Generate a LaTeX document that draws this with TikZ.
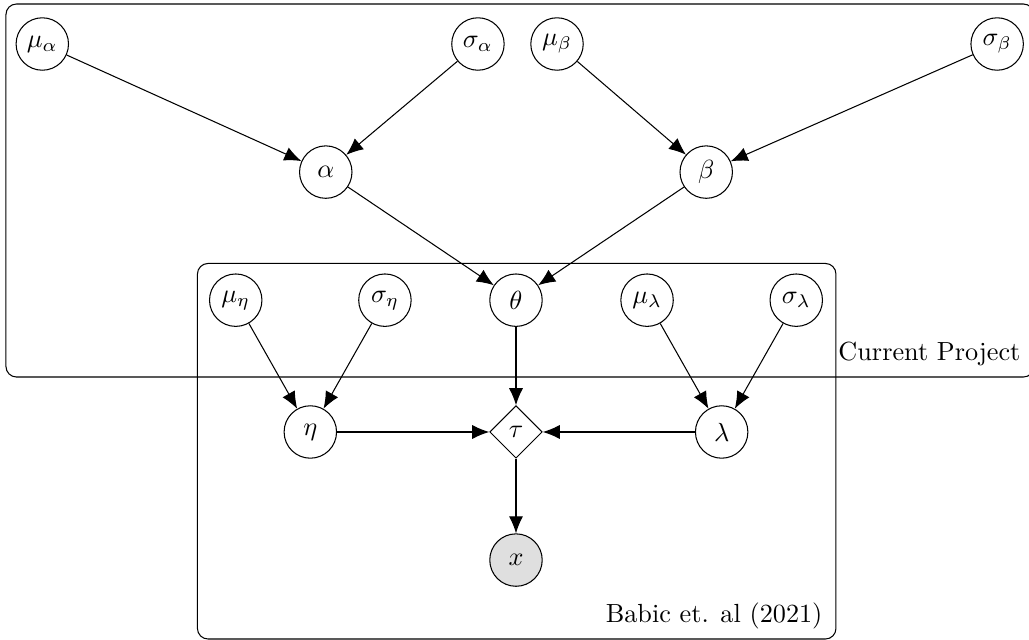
\documentclass[tikz,border=0pt]{standalone}
\usepackage{amsmath,amssymb}
\usepackage{tikz}
\usetikzlibrary{positioning}
\usetikzlibrary{arrows.meta}
\usetikzlibrary{shapes}

\begin{document}
\begin{tikzpicture}[node distance=1cm]
\tikzset{latent/.style={circle,minimum size=20pt,inner sep=1pt, draw, fill=white}}
\tikzset{obs/.style={latent, fill=gray!25}}
\tikzset{det/.style={diamond,minimum size=20pt,inner sep=1pt, draw, fill=white}}
\tikzset{plate/.style={draw, rounded corners=4pt}}
\tikzset{platelabel/.style={anchor=base east, inner sep=0pt}}
\tikzset{link/.style={-{Latex[length=6.5pt,width=5.4pt]}}}
\useasboundingbox (0,0) rectangle (13.794,-8.579);
% plates
\draw[plate] (0.080,-0.054) rectangle (13.86,-5.054);
\draw[plate] (2.647,-3.532) rectangle (11.206,-8.566);
\node[platelabel] (lblproject) at (13.686,-4.839) {Current Project};
\node[platelabel] (lblbabic) at (11.032,-8.351) {Babic et. al (2021)};
% nodes
\node[det] (tau) at (6.917,-5.791) {$\tau$};
\node[obs, below = of tau] (x) {$x$};
\node[latent, above = 1.05cm of tau] (theta) {$\theta$};
\node[latent, left = 2.04cm of tau] (eta) {$\eta$};
\node[latent, right = 2.04cm of tau] (lambda) {$\lambda$};
\node[latent, above = 1.05cm of eta, xshift=-1cm] (mueta) {$\mu_\eta$};
\node[latent, above = 1.05cm of eta, xshift=1cm] (sigmaeta) {$\sigma_\eta$};
\node[latent, above = 1.05cm of lambda, xshift=-1cm] (mulambda) {$\mu_\lambda$};
\node[latent, above = 1.05cm of lambda, xshift=1cm] (sigmalambda) {$\sigma_\lambda$};
\node[latent, above = of theta, xshift=-2.55cm] (alpha) {$\alpha$};
\node[latent, above = of theta, xshift=2.55cm] (beta) {$\beta$};
\node[latent, above = of alpha, xshift=-3.8cm] (mualpha) {$\mu_\alpha$};
\node[latent, above = of alpha, xshift=2.04cm] (sigmaalpha) {$\sigma_\alpha$};
\node[latent, above = of beta, xshift=-2cm] (mubeta) {$\mu_\beta$};
\node[latent, above = of beta, xshift=3.9cm] (sigmabeta) {$\sigma_\beta$};
% edges
\draw[link] (mualpha) -- (alpha);
\draw[link] (sigmaalpha) -- (alpha);
\draw[link] (mubeta) -- (beta);
\draw[link] (sigmabeta) -- (beta);
\draw[link] (alpha) -- (theta);
\draw[link] (beta) -- (theta);
\draw[link] (theta) -- (tau);
\draw[link] (mueta) -- (eta);
\draw[link] (sigmaeta) -- (eta);
\draw[link] (mulambda) -- (lambda);
\draw[link] (sigmalambda) -- (lambda);
\draw[link] (eta) -- (tau);
\draw[link] (lambda) -- (tau);
\draw[link] (tau) -- (x);
\end{tikzpicture}
\end{document}
